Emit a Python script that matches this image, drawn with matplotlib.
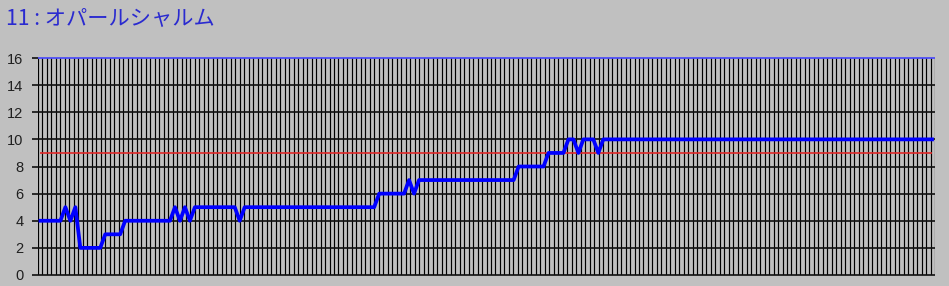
import numpy as np
import matplotlib
matplotlib.use("Agg")
import matplotlib.pyplot as plt

plt.rcParams['font.family'] = ['Noto Sans CJK JP', 'DejaVu Sans']

# Chart data
title = "11 : オパールシャルム"
y_ticks = [0, 2, 4, 6, 8, 10, 12, 14, 16]
threshold = 9
n_grid_cols = 200

values = [
    4, 4, 4, 4, 4, 5, 4, 5, 2, 2,
    2, 2, 2, 3, 3, 3, 3, 4, 4, 4,
    4, 4, 4, 4, 4, 4, 4, 5, 4, 5,
    4, 5, 5, 5, 5, 5, 5, 5, 5, 5,
    4, 5, 5, 5, 5, 5, 5, 5, 5, 5,
    5, 5, 5, 5, 5, 5, 5, 5, 5, 5,
    5, 5, 5, 5, 5, 5, 5, 5, 6, 6,
    6, 6, 6, 6, 7, 6, 7, 7, 7, 7,
    7, 7, 7, 7, 7, 7, 7, 7, 7, 7,
    7, 7, 7, 7, 7, 7, 8, 8, 8, 8,
    8, 8, 9, 9, 9, 9, 10, 10, 9, 10,
    10, 10, 9, 10, 10, 10, 10, 10, 10, 10,
    10, 10, 10, 10, 10, 10, 10, 10, 10, 10,
    10, 10, 10, 10, 10, 10, 10, 10, 10, 10,
    10, 10, 10, 10, 10, 10, 10, 10, 10, 10,
    10, 10, 10, 10, 10, 10, 10, 10, 10, 10,
    10, 10, 10, 10, 10, 10, 10, 10, 10, 10,
    10, 10, 10, 10, 10, 10, 10, 10, 10, 10,
]
x = np.arange(len(values))

bg = '#c0c0c0'
fig = plt.figure(figsize=(9.49, 2.86), dpi=100, facecolor=bg)
ax = fig.add_axes([38 / 949, 11 / 286, 897 / 949, 217 / 286])
ax.set_facecolor(bg)

x0, x1 = -0.5, len(values) - 1 + 0.6
ax.set_xlim(x0, x1)
ax.set_ylim(0, 16)

# dense vertical grid
grid_x = np.linspace(x0, x1, n_grid_cols + 1)
ax.vlines(grid_x, 0, 16, colors='#000000', lw=0.85, zorder=1)

# horizontal grid at labelled ticks, top one is blue
ax.hlines(y_ticks[:-1], x0, x1, colors='#101010', lw=1.2, zorder=2, clip_on=False)
ax.hlines(y_ticks[-1], x0, x1, colors='#3a3aff', lw=1.1, zorder=2, clip_on=False)

# threshold line
ax.hlines(threshold, x[0], x[-1], colors='#e02828', lw=1.2, zorder=3)

# main series
ax.plot(x, values, color='#0000ff', lw=2.7, zorder=4, clip_on=False)

for s in ax.spines.values():
    s.set_visible(False)
ax.set_xticks([])
ax.set_yticks(y_ticks)
ax.tick_params(axis='y', length=4, width=1.2, color='#101010', pad=6.5,
               labelsize=10.5, labelcolor='#202020')
for lab in ax.get_yticklabels():
    lab.set_fontfamily('Liberation Sans')

fig.text(6 / 949, 1 - 18 / 286, title, ha='left', va='center', fontsize=15.3,
         color='#2a2ad0')

fig.savefig('out.png', dpi=100, facecolor=fig.get_facecolor())
